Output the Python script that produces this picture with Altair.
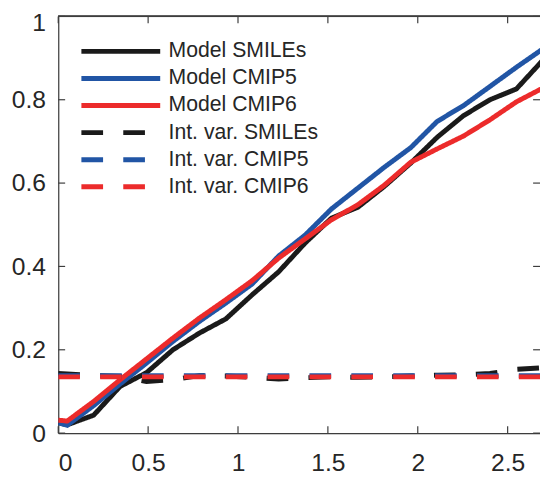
import altair as alt
import pandas as pd

# x positions of the data points
x_vals = [0.0, 0.05, 0.197, 0.344, 0.491, 0.638, 0.785, 0.932, 1.079, 1.226, 1.373,
          1.52, 1.667, 1.814, 1.961, 2.108, 2.255, 2.402, 2.549, 2.696, 2.843]

model_smiles = [0.025, 0.020, 0.043, 0.112, 0.145, 0.200, 0.240, 0.274, 0.332, 0.387, 0.456,
                0.516, 0.542, 0.592, 0.648, 0.710, 0.762, 0.800, 0.826, 0.895, 0.950]
model_cmip5 = [0.025, 0.019, 0.066, 0.118, 0.168, 0.220, 0.268, 0.312, 0.358, 0.425, 0.475,
               0.538, 0.588, 0.638, 0.685, 0.748, 0.786, 0.832, 0.878, 0.922, 0.960]
model_cmip6 = [0.031, 0.029, 0.076, 0.128, 0.178, 0.228, 0.276, 0.320, 0.366, 0.420, 0.466,
               0.512, 0.548, 0.595, 0.650, 0.682, 0.713, 0.752, 0.795, 0.828, 0.860]
intvar_smiles = [0.143, 0.142, 0.138, 0.136, 0.124, 0.128, 0.138, 0.137, 0.134, 0.130, 0.133,
                 0.135, 0.134, 0.135, 0.137, 0.139, 0.140, 0.143, 0.153, 0.157, 0.160]
intvar_cmip5 = [0.138, 0.138, 0.138, 0.138, 0.138, 0.138, 0.138, 0.138, 0.138, 0.138, 0.138,
                0.138, 0.138, 0.138, 0.138, 0.138, 0.138, 0.138, 0.138, 0.138, 0.138]
intvar_cmip6 = [0.135, 0.135, 0.135, 0.135, 0.135, 0.135, 0.135, 0.135, 0.135, 0.135, 0.135,
                0.135, 0.135, 0.135, 0.135, 0.135, 0.135, 0.135, 0.135, 0.135, 0.135]

series_names = ["Model SMILEs", "Model CMIP5", "Model CMIP6",
                "Int. var. SMILEs", "Int. var. CMIP5", "Int. var. CMIP6"]
series_values = [model_smiles, model_cmip5, model_cmip6,
                 intvar_smiles, intvar_cmip5, intvar_cmip6]
series_colors = ["#1a1a1a", "#2155A5", "#EC2B2B", "#1a1a1a", "#2155A5", "#EC2B2B"]
series_dash = [[1, 0], [1, 0], [1, 0], [22, 20.5], [22, 20.5], [22, 20.5]]

x_ticks = [0, 0.5, 1, 1.5, 2, 2.5]
y_ticks = [0, 0.2, 0.4, 0.6, 0.8, 1]

rows = []
for order, (name, vals) in enumerate(zip(series_names, series_values)):
    for xv, yv in zip(x_vals, vals):
        rows.append({"x": xv, "y": yv, "series": name, "order": order})
df = pd.DataFrame(rows)
xt_df = pd.DataFrame({"t": x_ticks})
yt_df = pd.DataFrame({"t": y_ticks})

W, H = 489, 423
TICK = 7
FONT = "Liberation Sans"
XDOM = [0, 2.68]
YDOM = [0, 1]
AX = "#3d3d3d"
TXT = "#262626"

xs = alt.Scale(domain=XDOM, nice=False, zero=False)
ys = alt.Scale(domain=YDOM, nice=False, zero=False)

leg = alt.Legend(orient="none", legendX=51, legendY=23, title=None,
                 symbolType="M-4,0H4", symbolSize=400,
                 symbolStrokeWidth=5, labelFontSize=21.5,
                 labelFont=FONT, labelColor=TXT, labelOffset=36,
                 rowPadding=4.5, padding=0)

lines = alt.Chart(df).mark_line(strokeWidth=5, clip=True).encode(
    x=alt.X("x:Q", scale=xs,
            axis=alt.Axis(orient="bottom", values=x_ticks, format="~g", title=None,
                          grid=False, tickSize=0, labelPadding=18, labelFontSize=25,
                          labelFont=FONT, labelColor=TXT, domainColor=AX, domainWidth=1.2)),
    y=alt.Y("y:Q", scale=ys,
            axis=alt.Axis(orient="left", values=y_ticks, format="~g", title=None,
                          grid=False, tickSize=0, labelPadding=13, labelFontSize=25,
                          labelFont=FONT, labelColor=TXT, domainColor=AX, domainWidth=1.2,
                          labelOffset={"condition": {"test": "datum.value >= 1", "value": 6},
                                       "value": 0})),
    color=alt.Color("series:N",
                    scale=alt.Scale(domain=series_names, range=series_colors),
                    legend=leg),
    strokeDash=alt.StrokeDash("series:N",
                              scale=alt.Scale(domain=series_names, range=series_dash),
                              legend=leg),
    order=alt.Order("order:Q"),
    detail="series:N",
)

rule_style = dict(color=AX, strokeWidth=1.2)

# inward ticks along the bottom and top edges
xt_bottom = alt.Chart(xt_df).mark_rule(**rule_style).encode(
    x=alt.X("t:Q", scale=xs), y=alt.value(H), y2=alt.value(H - TICK))
xt_top = alt.Chart(xt_df).mark_rule(**rule_style).encode(
    x=alt.X("t:Q", scale=xs), y=alt.value(0), y2=alt.value(TICK))
# inward ticks along the left and right edges
yt_left = alt.Chart(yt_df).mark_rule(**rule_style).encode(
    y=alt.Y("t:Q", scale=ys), x=alt.value(0), x2=alt.value(TICK))
yt_right = alt.Chart(yt_df).mark_rule(**rule_style).encode(
    y=alt.Y("t:Q", scale=ys), x=alt.value(W), x2=alt.value(W - TICK))
# top box edge
top_edge = alt.Chart(xt_df).mark_rule(**rule_style).encode(
    x=alt.value(0), x2=alt.value(W), y=alt.value(0))

chart = alt.layer(lines, xt_bottom, xt_top, yt_left, yt_right, top_edge).properties(
    width=W, height=H,
    autosize=alt.AutoSizeParams(type="none"),
    padding={"left": 51, "top": 5, "right": 0, "bottom": 40},
).configure_view(stroke=None).configure(background="white")

chart.save("out.html", embed_options={"renderer": "svg", "actions": False})
